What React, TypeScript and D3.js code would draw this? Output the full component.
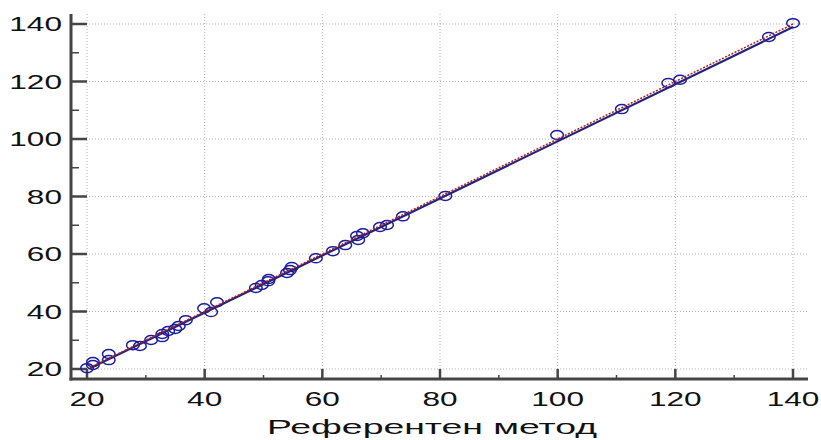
import React from "react";
import * as d3 from "d3";

const refX = [20, 21, 21, 23.7, 23.7, 27.8, 29, 30.9, 32.8, 32.8, 33.8, 35, 35.6, 36.8, 39.9, 41.1, 42.1, 48.7, 49.7, 50.8, 50.9, 54, 54.5, 54.8, 58.9, 61.8, 63.9, 65.9, 66.1, 66.9, 69.8, 71, 73.7, 80.9, 99.9, 110.9, 118.8, 120.8, 135.9, 140];
const testY = [20.3, 22.4, 21.4, 25.2, 23.1, 28.3, 28, 30.1, 32.2, 31.1, 33.2, 33.9, 35, 37, 41.1, 39.8, 43.2, 48.2, 49.2, 50.5, 51.3, 53.4, 54.4, 55.5, 58.5, 61, 63.1, 66.3, 64.9, 67.2, 69.4, 70.1, 73.1, 80.2, 101.4, 110.4, 119.5, 120.6, 135.5, 140.3];
const majorTicks = [20, 40, 60, 80, 100, 120, 140];
const minorTicks = [30, 50, 70, 90, 110, 130];
const regression = { slope: 0.993, intercept: -0.1, from: 20.5, to: 140 };
const xTitle = "Референтен метод";

const SX = 1.62;

export default function App() {
  const x = d3.scaleLinear().domain([20, 140]).range([87, 793]);
  const y = d3.scaleLinear().domain([20, 140]).range([369, 24]);
  const axisX = 71;
  const axisY = 379;
  const axisColor = "#454545";
  const font = "'Liberation Sans', Arial, sans-serif";
  const line = d3.line<[number, number]>().x((d) => x(d[0])).y((d) => y(d[1]));
  const regPts: [number, number][] = [
    [regression.from, regression.slope * regression.from + regression.intercept],
    [regression.to, regression.slope * regression.to + regression.intercept],
  ];
  const idPts: [number, number][] = [
    [regression.from, regression.from],
    [regression.to, regression.to],
  ];
  return (
    <svg width={821} height={440} style={{ position: "absolute", left: 0, top: 0, background: "#fff" }}>
      {/* grid */}
      {majorTicks.map((t) => (
        <line key={"gx" + t} x1={x(t)} x2={x(t)} y1={14} y2={axisY} stroke="#b4b4b4" strokeWidth={1} strokeDasharray="1,2" />
      ))}
      {majorTicks.map((t) => (
        <line key={"gy" + t} x1={axisX} x2={808} y1={y(t)} y2={y(t)} stroke="#b4b4b4" strokeWidth={1} strokeDasharray="1,2" />
      ))}
      {/* axes */}
      <line x1={axisX} x2={axisX} y1={14} y2={axisY + 1.5} stroke={axisColor} strokeWidth={3} />
      <line x1={axisX - 1.5} x2={808} y1={axisY} y2={axisY} stroke={axisColor} strokeWidth={3} />
      {majorTicks.map((t) => (
        <line key={"ty" + t} x1={axisX} x2={87} y1={y(t)} y2={y(t)} stroke={axisColor} strokeWidth={2.5} />
      ))}
      {minorTicks.map((t) => (
        <line key={"my" + t} x1={axisX} x2={79} y1={y(t)} y2={y(t)} stroke={axisColor} strokeWidth={1.5} />
      ))}
      {majorTicks.map((t) => (
        <line key={"tx" + t} x1={x(t)} x2={x(t)} y1={axisY} y2={axisY - 10} stroke={axisColor} strokeWidth={2.5} />
      ))}
      {minorTicks.map((t) => (
        <line key={"mx" + t} x1={x(t)} x2={x(t)} y1={axisY} y2={axisY - 4} stroke={axisColor} strokeWidth={1.5} />
      ))}
      {/* labels */}
      {majorTicks.map((t) => (
        <text key={"ly" + t} transform={`translate(62,${y(t) + 7}) scale(${SX},1)`} textAnchor="end" fontFamily={font} fontSize={19.5} fill="#111">
          {t}
        </text>
      ))}
      {majorTicks.map((t) => (
        <text key={"lx" + t} transform={`translate(${x(t)},406) scale(${SX},1)`} textAnchor="middle" fontFamily={font} fontSize={19.5} fill="#111">
          {t}
        </text>
      ))}
      <text transform={`translate(432,434) scale(1.78,1)`} textAnchor="middle" fontFamily={font} fontSize={21} fill="#111">
        {xTitle}
      </text>
      {/* points */}
      {refX.map((v, i) => (
        <ellipse key={"p" + i} cx={x(v)} cy={y(testY[i])} rx={6.3} ry={4.5} fill="none" stroke="#1c1c9c" strokeWidth={1.5} />
      ))}
      {/* lines */}
      <path d={line(regPts) || ""} stroke="#23237f" strokeWidth={2.2} fill="none" />
      <path d={line(idPts) || ""} stroke="#b02020" strokeWidth={1.5} strokeDasharray="2,1.5" fill="none" />
    </svg>
  );
}
